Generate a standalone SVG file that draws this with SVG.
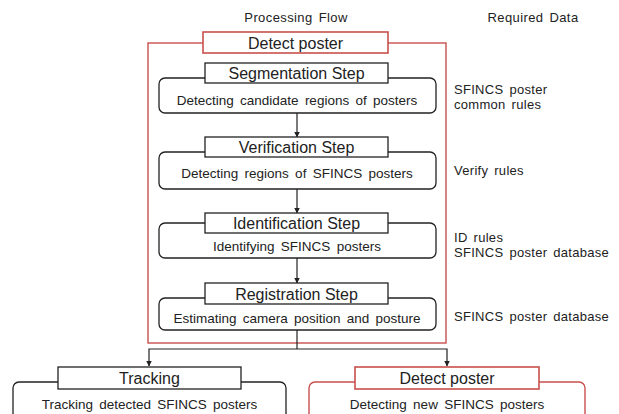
<svg xmlns="http://www.w3.org/2000/svg" width="619" height="414" viewBox="0 0 619 414">
<defs>
<style>
text{font-family:"Liberation Sans",Arial,sans-serif;fill:#222}
.hd{font-size:13px;text-anchor:middle;letter-spacing:0.4px;word-spacing:2px}
.ti{font-size:16px;text-anchor:middle}
.bd{font-size:13.5px;text-anchor:middle;word-spacing:2.5px}
.rq{font-size:13px;letter-spacing:0.3px;word-spacing:2px}
.tb{fill:#fff;stroke:#222;stroke-width:1.3}
.tbr{fill:#fff;stroke:#c8504d;stroke-width:1.6}
.rr{fill:#fff;stroke:#222;stroke-width:1.3}
.rrr{fill:#fff;stroke:#c8504d;stroke-width:1.4}
.ln{fill:none;stroke:#222;stroke-width:1.2}
</style>
<marker id="ah" viewBox="0 0 6 6" refX="5.5" refY="3" markerWidth="6" markerHeight="6" markerUnits="userSpaceOnUse" orient="auto">
<path d="M0,0 L6,3 L0,6 z" fill="#222"/>
</marker>
</defs>
<rect width="619" height="414" fill="#fff"/>
<text class="hd" x="296" y="22">Processing Flow</text>
<text class="hd" x="533" y="22">Required Data</text>

<g id="outer">
<rect x="148" y="43" width="298" height="300" fill="none" stroke="#c8504d" stroke-width="1.4"/>
<rect class="tbr" x="203" y="32" width="185" height="21"/>
<text class="ti" x="295.5" y="48.5">Detect poster</text>
</g>

<g id="connectors">
<line class="ln" x1="297" y1="113" x2="297" y2="137" marker-end="url(#ah)"/>
<line class="ln" x1="297" y1="189" x2="297" y2="213" marker-end="url(#ah)"/>
<line class="ln" x1="297" y1="258" x2="297" y2="283" marker-end="url(#ah)"/>
<polyline class="ln" points="297,330 297,349"/>
<polyline class="ln" points="297,349 149,349 149,366" marker-end="url(#ah)"/>
<polyline class="ln" points="297,349 447,349 447,366" marker-end="url(#ah)"/>
</g>

<g id="segmentation">
<rect class="rr" x="159" y="78" width="277" height="35" rx="6"/>
<rect class="tb" x="205" y="63" width="183" height="20"/>
<text class="ti" x="296.5" y="79">Segmentation Step</text>
<text class="bd" x="297" y="104.5">Detecting candidate regions of posters</text>
</g>

<g id="verification">
<rect class="rr" x="159" y="152" width="277" height="37" rx="6"/>
<rect class="tb" x="205" y="137" width="183" height="20"/>
<text class="ti" x="296.5" y="153">Verification Step</text>
<text class="bd" x="297" y="178">Detecting regions of SFINCS posters</text>
</g>

<g id="identification">
<rect class="rr" x="159" y="223" width="277" height="35" rx="6"/>
<rect class="tb" x="205" y="213" width="183" height="20"/>
<text class="ti" x="296.5" y="229">Identification Step</text>
<text class="bd" x="297" y="251">Identifying SFINCS posters</text>
</g>

<g id="registration">
<rect class="rr" x="159" y="298" width="277" height="32" rx="6"/>
<rect class="tb" x="205" y="283" width="183" height="21"/>
<text class="ti" x="296.5" y="299.5">Registration Step</text>
<text class="bd" x="297" y="323">Estimating camera position and posture</text>
</g>

<g id="tracking">
<rect class="rr" x="13" y="382" width="273" height="40" rx="6"/>
<rect class="tb" x="58" y="367" width="183" height="22"/>
<text class="ti" x="149.5" y="384">Tracking</text>
<text class="bd" x="149.5" y="409">Tracking detected SFINCS posters</text>
</g>

<g id="detect2">
<rect class="rrr" x="309" y="382" width="276" height="40" rx="6"/>
<rect class="tbr" x="355" y="367" width="184" height="22"/>
<text class="ti" x="447" y="384">Detect poster</text>
<text class="bd" x="447" y="409">Detecting new SFINCS posters</text>
</g>

<g id="required">
<text class="rq" x="454" y="94">SFINCS poster</text>
<text class="rq" x="454" y="109">common rules</text>
<text class="rq" x="454" y="175">Verify rules</text>
<text class="rq" x="454" y="242">ID rules</text>
<text class="rq" x="454" y="257">SFINCS poster database</text>
<text class="rq" x="454" y="321">SFINCS poster database</text>
</g>
</svg>
